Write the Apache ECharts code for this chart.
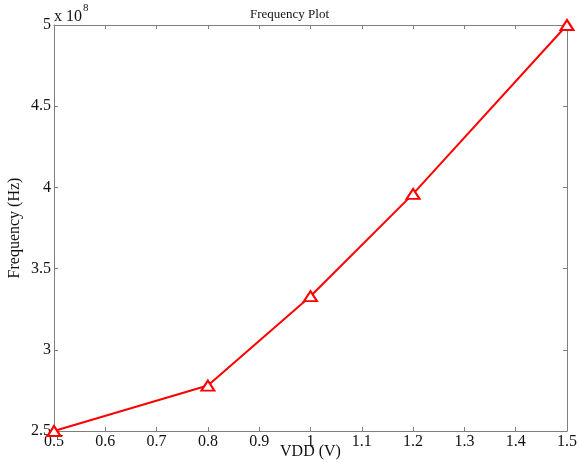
<!DOCTYPE html>
<html><head><meta charset="utf-8">
<script src="https://cdn.jsdelivr.net/npm/echarts@6/dist/echarts.min.js"></script>
<style>html,body{margin:0;padding:0;background:#fff}#c{width:579px;height:462px}</style>
</head><body><div id="c"></div>
<script>
const vdd = [0.5, 0.8, 1.0, 1.2, 1.5];
const freq = [2.5e8, 2.78e8, 3.33e8, 3.96e8, 5.0e8];
const xTicks = ['0.5','0.6','0.7','0.8','0.9','1','1.1','1.2','1.3','1.4','1.5'];
const yTicks = ['2.5','3','3.5','4','4.5','5'];
const FONT = '"Liberation Serif", "DejaVu Serif", serif';
const axisCol = '#7f7f7f';
const txtCol = '#111';
const chart = echarts.init(document.getElementById('c'));
const xFmt = v => { const i = Math.round((v - 0.5) / 0.1); return xTicks[i] !== undefined ? xTicks[i] : ''; };
const yFmt = v => { const i = Math.round((v - 2.5e8) / 0.5e8); return yTicks[i] !== undefined ? yTicks[i] : ''; };
const common = {
  axisLine: {show: true, lineStyle: {color: axisCol, width: 1}},
  axisTick: {show: true, inside: true, length: 4, lineStyle: {color: axisCol}},
  splitLine: {show: false}
};
chart.setOption({
  animation: false,
  backgroundColor: '#fff',
  title: {text: 'Frequency Plot', left: 'center', top: 3, textStyle: {fontFamily: FONT, fontSize: 13, fontWeight: 'normal', color: txtCol}},
  grid: {left: 54, right: 12, top: 25, bottom: 31, containLabel: false, outerBoundsMode: 'none'},
  graphic: [{type: 'text', left: 54, top: 3, style: {text: '{a|x 10}{b|8}', rich: {a: {fontFamily: FONT, fontSize: 16, fill: txtCol, padding: [6,0,0,0]}, b: {fontFamily: FONT, fontSize: 11, fill: txtCol, verticalAlign: 'top', padding: [0,0,0,1]}}}}],
  xAxis: [
    Object.assign({type: 'value', min: 0.5, max: 1.5, interval: 0.1, position: 'bottom',
      name: 'VDD (V)', nameLocation: 'middle', nameGap: 13, nameMoveOverlap: false, nameTextStyle: {fontFamily: FONT, fontSize: 16, color: txtCol},
      axisLabel: {formatter: xFmt, fontFamily: FONT, fontSize: 16, color: txtCol, margin: 3}}, common),
    Object.assign({type: 'value', min: 0.5, max: 1.5, interval: 0.1, position: 'top', axisLabel: {show: false}}, common)
  ],
  yAxis: [
    Object.assign({type: 'value', min: 2.5e8, max: 5e8, interval: 0.5e8, position: 'left',
      name: 'Frequency (Hz)', nameLocation: 'middle', nameGap: 31, nameMoveOverlap: false, nameTextStyle: {fontFamily: FONT, fontSize: 16, color: txtCol},
      axisLabel: {formatter: yFmt, fontFamily: FONT, fontSize: 16, color: txtCol, margin: 3}}, common),
    Object.assign({type: 'value', min: 2.5e8, max: 5e8, interval: 0.5e8, position: 'right', axisLabel: {show: false}}, common)
  ],
  series: [{
    type: 'line', data: vdd.map((v, i) => [v, freq[i]]),
    lineStyle: {color: '#ff0000', width: 2},
    itemStyle: {color: '#ff0000', borderColor: '#ff0000', borderWidth: 2},
    symbol: 'emptyTriangle', symbolSize: [13, 10], showAllSymbol: true,
    clip: false
  }]
});
</script></body></html>
